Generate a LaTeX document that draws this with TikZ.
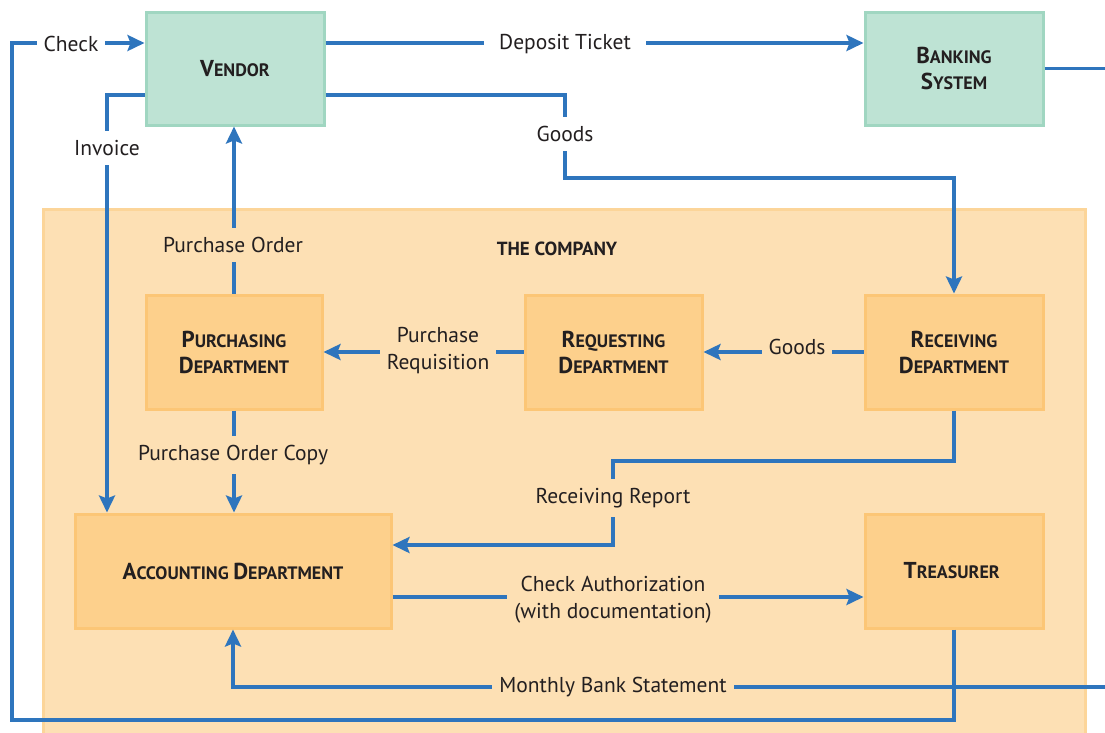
\documentclass[tikz,border=0pt]{standalone}
\usepackage{fontspec}
\setmainfont{PT Sans}
\usetikzlibrary{arrows.meta, positioning}

\definecolor{flowblue}{HTML}{2E75BD}
\definecolor{vendfill}{HTML}{BEE3D4}
\definecolor{venddraw}{HTML}{A0D6C1}
\definecolor{compfill}{HTML}{FDE0B4}
\definecolor{compdraw}{HTML}{FCD599}
\definecolor{deptfill}{HTML}{FDD08C}
\definecolor{deptdraw}{HTML}{FCC676}
\definecolor{textdark}{HTML}{231F20}

% small caps in two sizes
\newcommand{\capA}[2]{{\fontsize{23}{26}\selectfont #1}{\fontsize{18}{26}\selectfont #2}}

\tikzset{
  flow/.style={line width=3.6pt, flowblue, -{Stealth[length=17pt, width=16pt, inset=3pt]}},
  plainflow/.style={line width=3.6pt, flowblue},
  outbox/.style={rectangle, fill=vendfill, draw=venddraw, line width=3pt, minimum width=178pt,
    minimum height=113pt, align=center, text=textdark, font=\bfseries\fontsize{18}{26}\selectfont},
  deptbox/.style={rectangle, fill=deptfill, draw=deptdraw, line width=3pt, minimum height=114pt,
    align=center, text=textdark, font=\bfseries\fontsize{18}{26}\selectfont},
  lblW/.style={fill=white, inner xsep=7pt, inner ysep=6pt, align=center, text=textdark,
    font=\fontsize{21.5}{27}\selectfont},
  lblC/.style={lblW, fill=compfill}
}

\begin{document}
\begin{tikzpicture}[x=1pt, y=-1pt]
\useasboundingbox (0,0) rectangle (1105,732);

% Firma (tlo)
\draw[fill=compfill, draw=compdraw, line width=3pt] (43,209) rectangle (1085,760);
\node[text=textdark, font=\bfseries\fontsize{19}{22}\selectfont] (comp) at (557,249) {THE COMPANY};

% Jednostki zewnetrzne
\node[outbox] (vendor) at (235,68.5) {\capA{V}{ENDOR}};
\node[outbox] (bank) at (954,68.5) {\capA{B}{ANKING}\\\capA{S}{YSTEM}};

% Dzialy firmy
\foreach \n/\x/\y/\w/\txt in {
  purch/234/352/176/{\capA{P}{URCHASING}\\\capA{D}{EPARTMENT}},
  req/613.5/352/177/{\capA{R}{EQUESTING}\\\capA{D}{EPARTMENT}},
  recv/954/352/178/{\capA{R}{ECEIVING}\\\capA{D}{EPARTMENT}},
  acct/233/571/316/{\capA{A}{CCOUNTING} \capA{D}{EPARTMENT}},
  treas/954/571/178/{\capA{T}{REASURER}}
} {
  \node[deptbox, minimum width=\w pt] (\n) at (\x,\y) {\txt};
}

% Punkty zalamania
\coordinate (cBL) at (12,720);
\coordinate (bankOut) at (1105,68.5);
\coordinate (stmtIn) at (1105,687);
\coordinate (goodsBend) at (565,178);
\coordinate (rrBend) at (613,461);

% Przeplywy
\draw[flow] (treas.south) |- (cBL) |- ([yshift=25.5pt]vendor.west);
\draw[flow] ([yshift=25.5pt]vendor.east) -- ([yshift=25.5pt]bank.west);
\draw[plainflow] (bank.east) -- (bankOut);
\draw[flow] ([yshift=-26.5pt]vendor.west) -| ([xshift=-126pt]acct.north);
\draw[flow] ([yshift=-26.5pt]vendor.east) -| (goodsBend) -| (recv.north);
\draw[flow] (purch.north) -- (purch.north |- vendor.south);
\draw[flow] (req.west) -- (purch.east);
\draw[flow] (recv.west) -- (req.east);
\draw[flow] (purch.south) -- (purch.south |- acct.north);
\draw[flow] (recv.south) |- (rrBend) |- ([yshift=26pt]acct.east);
\draw[flow] ([yshift=-26pt]acct.east) -- ([yshift=-26pt]treas.west);
\draw[flow] (stmtIn) -| (acct.south);

% Etykiety
\node[lblW] (lCheck) at (71,44) {Check};
\node[lblW, inner xsep=15pt] (lDep) at (565,44) {Deposit Ticket};
\node[lblW, inner ysep=9pt] (lInv) at (107,148) {Invoice};
\node[lblW, inner ysep=9pt] (lGoods) at (565,134) {Goods};
\node[lblC, inner ysep=9pt] (lPO) at (233,245) {Purchase Order};
\node[lblC] (lReq) at (438,351) {Purchase\\Requisition};
\node[lblC] (lGoods2) at (797,347) {Goods};
\node[lblC, inner ysep=9pt] (lPOC) at (233,455) {Purchase Order Copy};
\node[lblC, inner ysep=9pt] (lRR) at (613,498) {Receiving Report};
\node[lblC] (lCA) at (613,600) {Check Authorization\\(with documentation)};
\node[lblC] (lMBS) at (613,687) {Monthly Bank Statement};

\end{tikzpicture}
\end{document}
